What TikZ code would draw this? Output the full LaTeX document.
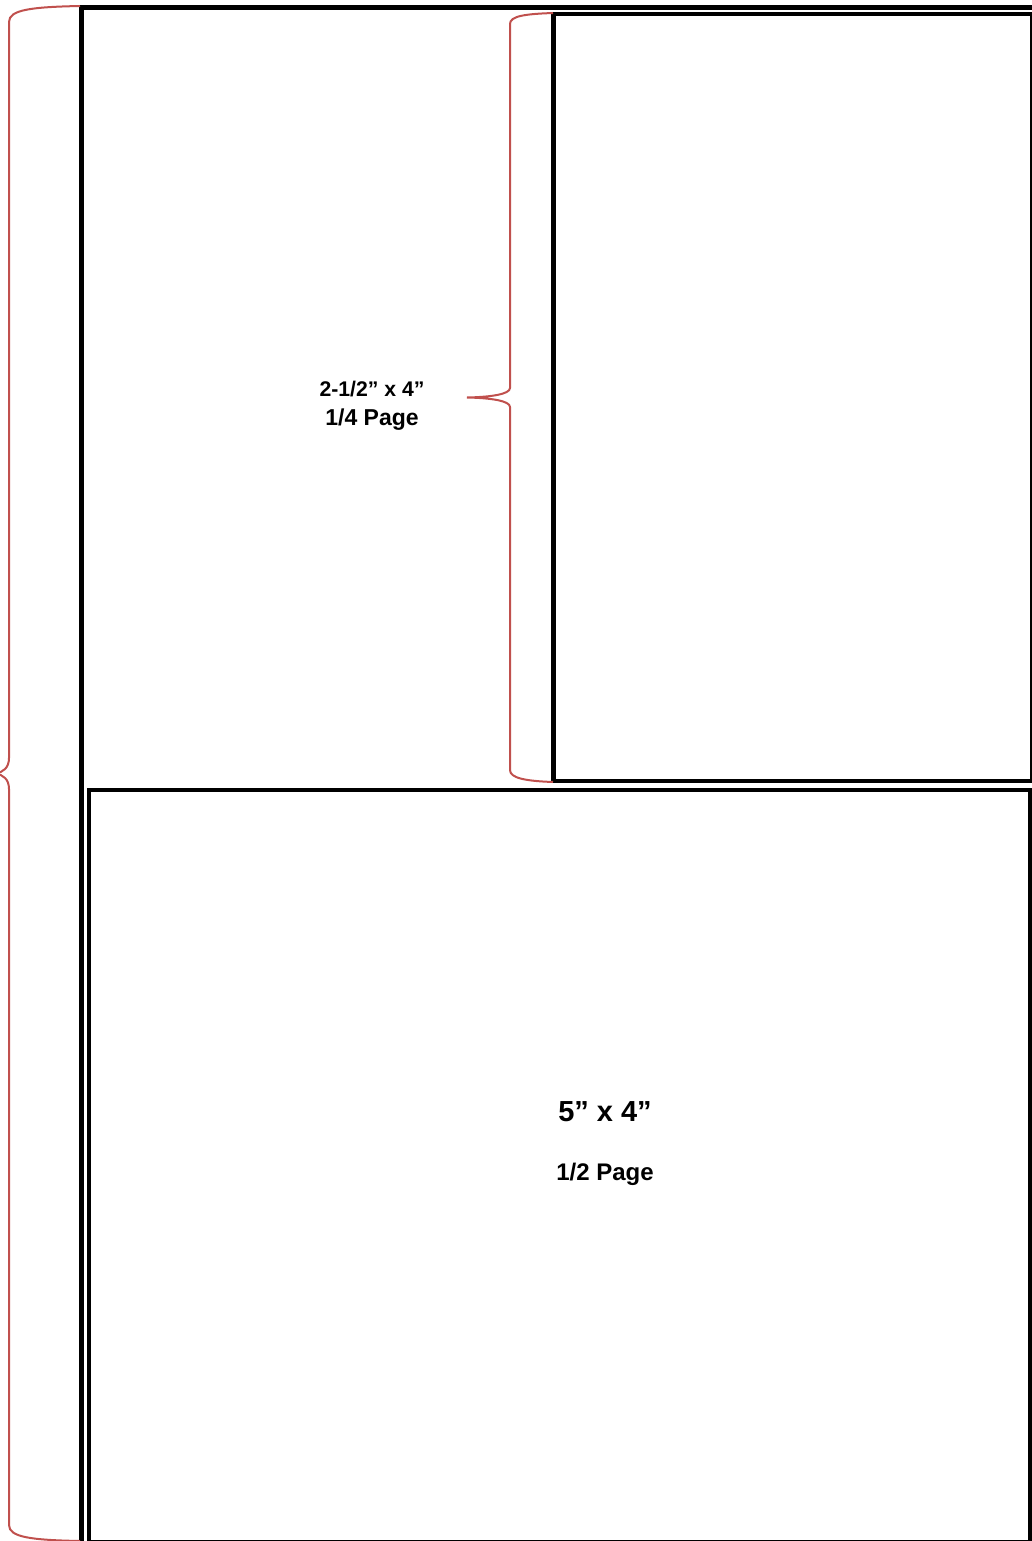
\documentclass[tikz,border=0pt]{standalone}
\usepackage{fontspec}
\setmainfont{Liberation Sans}
\usepackage{tikz}
\usepackage{xcolor}
\usetikzlibrary{positioning}
\definecolor{adred}{HTML}{C0504D}
\tikzset{
  pagebox/.style={draw=black, line width=2.2pt},
  bracket/.style={draw=adred, line width=1pt},
  sizelabel/.style={font=\bfseries, anchor=base, inner sep=0pt}
}

\begin{document}
\begin{tikzpicture}[x=0.5pt, y=-0.5pt]
  \useasboundingbox (0,0) rectangle (1032,1541);
  \clip (0,0) rectangle (1032,1541);
  % page outlines
  \draw[pagebox] (81.5,7.5) rectangle (1045,1560);
  \draw[pagebox] (553.5,14) rectangle (1032.5,781);
  \draw[pagebox, line width=2pt] (89,789.5) rectangle (1029.5,1541.5);
  % braces
  \draw[bracket] (80,6) .. controls (30,7) and (9,10) .. (9,22) -- (9,758)
    .. controls (9,768) and (3,772) .. (-4,773.5)
    .. controls (3,775) and (9,779) .. (9,789) -- (9,1525)
    .. controls (9,1537) and (30,1540) .. (80,1541);
  \draw[bracket] (553,13) .. controls (525,14) and (510,16) .. (510,24) -- (510,388)
    .. controls (510,394) and (492,397) .. (467,397.5)
    .. controls (492,398) and (510,401) .. (510,407) -- (510,770)
    .. controls (510,778) and (525,781) .. (553,782);
  % labels
  \node[sizelabel, font=\bfseries\fontsize{10.6}{12}\selectfont] (quarterdim) at (372,396) {2-1/2” x 4”};
  \node[sizelabel, font=\bfseries\fontsize{11.5}{13}\selectfont] (quarterpage) at (372,425) {1/4 Page};
  \node[sizelabel, font=\bfseries\fontsize{14.5}{16}\selectfont] (halfdim) at (605,1121.5) {5” x 4”};
  \node[sizelabel, font=\bfseries\fontsize{12}{14}\selectfont] (halfpage) at (605,1180) {1/2 Page};
\end{tikzpicture}
\end{document}
